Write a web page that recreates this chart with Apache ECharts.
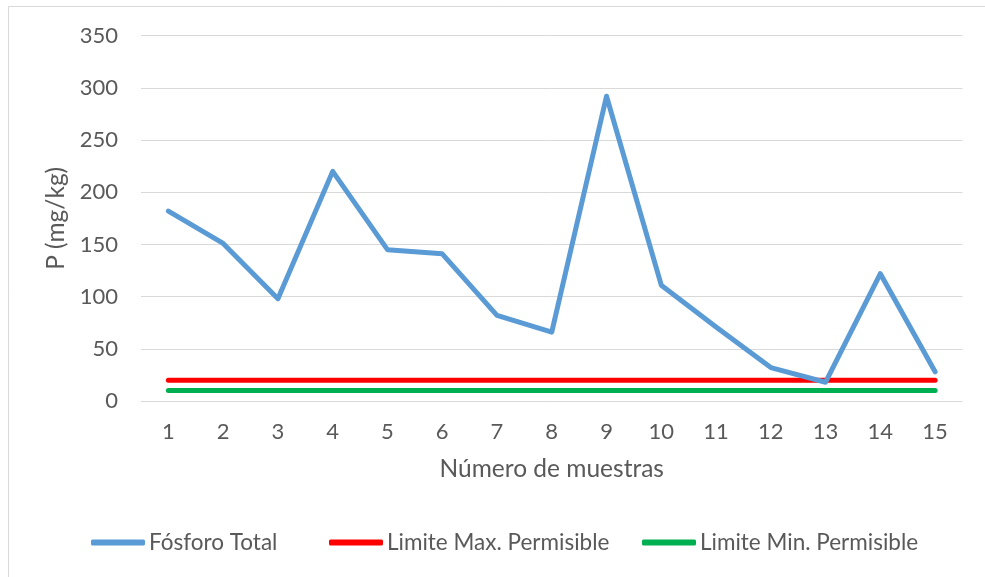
<!DOCTYPE html>
<html>
<head>
<meta charset="utf-8">
<script src="https://cdn.jsdelivr.net/npm/echarts@6/dist/echarts.min.js"></script>
<style>
  html, body { margin: 0; padding: 0; background: #fff; }
  #chart { width: 985px; height: 577px; }
</style>
</head>
<body>
<div id="chart"></div>
<script>
// Sample numbers along the x axis
const muestras = ['1','2','3','4','5','6','7','8','9','10','11','12','13','14','15'];
// Total phosphorus per sample (mg/kg)
const fosforoTotal = [182, 151, 98, 220, 145, 141, 82, 66, 292, 111, 71, 32, 18, 122, 28];
// Permissible limits (mg/kg)
const limiteMax = [20, 20, 20, 20, 20, 20, 20, 20, 20, 20, 20, 20, 20, 20, 20];
const limiteMin = [10, 10, 10, 10, 10, 10, 10, 10, 10, 10, 10, 10, 10, 10, 10];
const seriesNames = ['Fósforo Total', 'Limite Max. Permisible', 'Limite Min. Permisible'];

const FONT = 'Lato';
const TEXT = '#595959';

const chart = echarts.init(document.getElementById('chart'), null, { renderer: 'canvas' });

function lineSeries(name, data, color) {
  return {
    name: name,
    type: 'line',
    data: data,
    symbol: 'none',
    smooth: false,
    lineStyle: { color: color, width: 5, cap: 'round', join: 'round' },
    itemStyle: { color: color },
    emphasis: { disabled: true }
  };
}

// One legend block per series so each entry sits at its own offset
function legendEntry(name, left) {
  return {
    data: [name],
    left: left,
    top: 531,
    padding: 0,
    itemWidth: 54,
    itemHeight: 6,
    icon: 'roundRect',
    textStyle: { fontFamily: FONT, fontSize: 22.5, color: TEXT, padding: [0, 0, 0, -1] }
  };
}

chart.setOption({
  backgroundColor: '#ffffff',
  animation: false,
  graphic: [{
    type: 'rect',
    shape: { x: 8.5, y: 6.5, width: 1000, height: 600 },
    style: { fill: 'none', stroke: '#d9d9d9', lineWidth: 1 },
    z: -10
  }],
  grid: { left: 141, right: 22.5, top: 35.7, bottom: 176, containLabel: false },
  legend: [
    legendEntry(seriesNames[0], 91),
    legendEntry(seriesNames[1], 329),
    legendEntry(seriesNames[2], 642)
  ],
  xAxis: {
    type: 'category',
    data: muestras,
    boundaryGap: true,
    name: 'Número de muestras',
    nameLocation: 'middle',
    nameGap: 56,
    nameTextStyle: { fontFamily: FONT, fontSize: 24.5, color: TEXT },
    axisLine: { show: false },
    axisTick: { show: false },
    axisLabel: { fontFamily: FONT, fontSize: 22, color: TEXT, margin: 20 },
    splitLine: { show: false }
  },
  yAxis: {
    type: 'value',
    min: 0,
    max: 350,
    interval: 50,
    name: 'P (mg/kg)',
    nameLocation: 'middle',
    nameGap: 69,
    nameRotate: 90,
    nameTextStyle: { fontFamily: FONT, fontSize: 24.5, color: TEXT },
    axisLine: { show: false },
    axisTick: { show: false },
    axisLabel: { fontFamily: FONT, fontSize: 22, color: TEXT, margin: 23 },
    splitLine: { lineStyle: { color: '#d9d9d9', width: 1 } }
  },
  series: [
    lineSeries(seriesNames[1], limiteMax, '#ff0000'),
    lineSeries(seriesNames[2], limiteMin, '#00b050'),
    lineSeries(seriesNames[0], fosforoTotal, '#5b9bd5')
  ]
});
</script>
</body>
</html>
